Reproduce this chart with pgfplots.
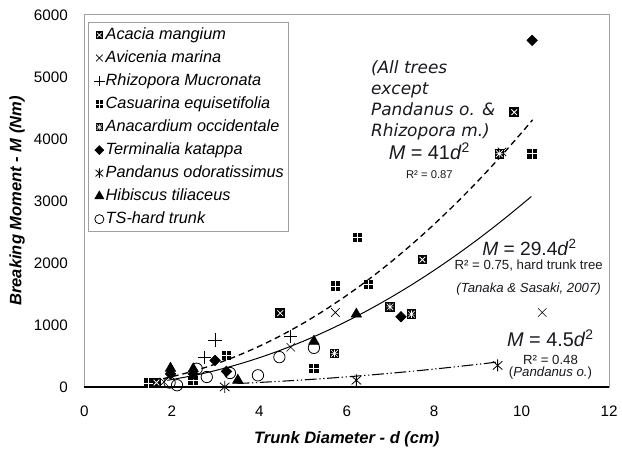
\documentclass[border=0pt]{standalone}
\usepackage{fontspec}
\setmainfont{Liberation Sans}
\newfontfamily\dejavu{DejaVu Sans}
\usepackage{pgfplots}
\pgfplotsset{compat=1.18}
\definecolor{txt}{rgb}{0.1,0.1,0.12}
\pgfdeclareplotmark{acacia}{%
  \pgfpathrectangle{\pgfqpoint{-\pgfplotmarksize}{-\pgfplotmarksize}}{\pgfqpoint{2\pgfplotmarksize}{2\pgfplotmarksize}}%
  \pgfusepathqfill
  \begin{pgfscope}\pgfsetstrokecolor{white}\pgfsetlinewidth{0.6pt}%
  \pgfpathmoveto{\pgfqpoint{-0.6\pgfplotmarksize}{-0.6\pgfplotmarksize}}%
  \pgfpathlineto{\pgfqpoint{0.6\pgfplotmarksize}{0.6\pgfplotmarksize}}%
  \pgfpathmoveto{\pgfqpoint{-0.6\pgfplotmarksize}{0.6\pgfplotmarksize}}%
  \pgfpathlineto{\pgfqpoint{0.6\pgfplotmarksize}{-0.6\pgfplotmarksize}}%
  \pgfusepathqstroke\end{pgfscope}}
\pgfdeclareplotmark{casuarina}{%
  \pgfpathrectangle{\pgfqpoint{-\pgfplotmarksize}{-\pgfplotmarksize}}{\pgfqpoint{2\pgfplotmarksize}{2\pgfplotmarksize}}%
  \pgfusepathqfill
  \begin{pgfscope}\pgfsetstrokecolor{white}\pgfsetlinewidth{0.7pt}%
  \pgfpathmoveto{\pgfqpoint{0pt}{-\pgfplotmarksize}}%
  \pgfpathlineto{\pgfqpoint{0pt}{\pgfplotmarksize}}%
  \pgfpathmoveto{\pgfqpoint{-\pgfplotmarksize}{0pt}}%
  \pgfpathlineto{\pgfqpoint{\pgfplotmarksize}{0pt}}%
  \pgfusepathqstroke\end{pgfscope}}
\pgfdeclareplotmark{anacardium}{%
  \pgfpathrectangle{\pgfqpoint{-\pgfplotmarksize}{-\pgfplotmarksize}}{\pgfqpoint{2\pgfplotmarksize}{2\pgfplotmarksize}}%
  \pgfusepathqfill
  \begin{pgfscope}\pgfsetstrokecolor{white}\pgfsetlinewidth{0.45pt}%
  \pgfpathmoveto{\pgfqpoint{-0.7\pgfplotmarksize}{-0.7\pgfplotmarksize}}%
  \pgfpathlineto{\pgfqpoint{0.7\pgfplotmarksize}{0.7\pgfplotmarksize}}%
  \pgfpathmoveto{\pgfqpoint{-0.7\pgfplotmarksize}{0.7\pgfplotmarksize}}%
  \pgfpathlineto{\pgfqpoint{0.7\pgfplotmarksize}{-0.7\pgfplotmarksize}}%
  \pgfpathmoveto{\pgfqpoint{0pt}{-0.8\pgfplotmarksize}}%
  \pgfpathlineto{\pgfqpoint{0pt}{0.8\pgfplotmarksize}}%
  \pgfpathmoveto{\pgfqpoint{-0.8\pgfplotmarksize}{0pt}}%
  \pgfpathlineto{\pgfqpoint{0.8\pgfplotmarksize}{0pt}}%
  \pgfusepathqstroke\end{pgfscope}}
\pgfdeclareplotmark{pand}{%
  \pgfpathmoveto{\pgfqpoint{0pt}{-\pgfplotmarksize}}%
  \pgfpathlineto{\pgfqpoint{0pt}{\pgfplotmarksize}}%
  \pgfpathmoveto{\pgfqpoint{-0.8\pgfplotmarksize}{-0.7\pgfplotmarksize}}%
  \pgfpathlineto{\pgfqpoint{0.8\pgfplotmarksize}{0.7\pgfplotmarksize}}%
  \pgfpathmoveto{\pgfqpoint{-0.8\pgfplotmarksize}{0.7\pgfplotmarksize}}%
  \pgfpathlineto{\pgfqpoint{0.8\pgfplotmarksize}{-0.7\pgfplotmarksize}}%
  \pgfusepathqstroke}
\pgfdeclareplotmark{diam}{%
  \pgfpathmoveto{\pgfqpoint{0pt}{\pgfplotmarksize}}%
  \pgfpathlineto{\pgfqpoint{\pgfplotmarksize}{0pt}}%
  \pgfpathlineto{\pgfqpoint{0pt}{-\pgfplotmarksize}}%
  \pgfpathlineto{\pgfqpoint{-\pgfplotmarksize}{0pt}}%
  \pgfpathclose\pgfusepathqfillstroke}
\begin{document}
\begin{tikzpicture}
\begin{axis}[
  at={(0,0)}, anchor=south west,
  scale only axis, width=396.75pt, height=281.25pt,
  xmin=0, xmax=12, ymin=0, ymax=6000,
  xtick={0,2,4,6,8,10,12}, ytick={0,1000,2000,3000,4000,5000,6000},
  major tick length=0pt,
  clip=false,
  axis line style={draw=gray!75, line width=0.9pt},
  tick label style={font=\fontsize{11.5}{13}\selectfont, text=black},
  /pgf/number format/assume math mode=true,
  /pgf/number format/set thousands separator={},
  yticklabel style={xshift=-9pt},
  xticklabel style={yshift=-11pt},
  every axis x label/.style={at={(axis description cs:0.5,-0.14)}, anchor=center},
  every axis y label/.style={at={(axis description cs:-0.128,0.5)}, anchor=center, rotate=90},
  label style={font=\bfseries\itshape\fontsize{12.5}{14}\selectfont, text=black},
  xlabel={Trunk Diameter - d (cm)},
  ylabel={Breaking Moment - M (Nm)},
  legend style={at={(0.0076,0.981)}, anchor=north west, draw=gray!75, line width=0.7pt,
    font=\itshape\fontsize{12.3}{14}\selectfont, inner xsep=3pt, inner ysep=3pt,
    row sep=4.3pt, column sep=0pt, nodes={inner sep=0.8pt, text height=9pt, text depth=2.5pt}},
  legend cell align=left,
  legend image code/.code={\path[draw=none] (0pt,0pt) -- (9pt,0pt); \draw[#1,/tikz/every mark/.append style={scale=0.8}] plot coordinates {(5pt,0pt)};},
]
\addplot[only marks, mark=acacia, mark size=3.6pt, mark options={fill=black,draw=black}]
 coordinates {(9.83,4430)(7.73,2053)(4.48,1190)(1.65,70)};
\addlegendentry{Acacia mangium}
\addplot[only marks, mark=x, mark size=4.5pt, black, mark options={line width=0.5pt}]
 coordinates {(10.47,1200)(5.74,1200)(4.72,640)(1.82,80)(9.55,3790)};
\addlegendentry{Avicenia marina}
\addplot[only marks, mark=+, mark size=5pt, black, mark options={line width=0.6pt}]
 coordinates {(2.99,757)(2.74,480)(4.72,811)};
\addlegendentry{Rhizopora Mucronata}
\addplot[only marks, mark=casuarina, mark size=3.6pt, mark options={fill=black,draw=black}]
 coordinates {(10.24,3760)(6.25,2410)(5.74,1627)(6.5,1653)(3.25,507)(2.49,107)(1.47,60)(5.25,300)};
\addlegendentry{Casuarina equisetifolia}
\addplot[only marks, mark=anacardium, mark size=3.6pt, mark options={fill=black,draw=black}]
 coordinates {(9.49,3760)(6.99,1290)(7.48,1173)(5.72,540)};
\addlegendentry{Anacardium occidentale}
\addplot[only marks, mark=diam, mark size=4pt, mark options={fill=black,draw=black}]
 coordinates {(10.24,5589)(7.24,1131)(2.99,427)(3.25,250)(1.97,210)(2.49,210)};
\addlegendentry{Terminalia katappa}
\addplot[only marks, mark=pand, mark size=4.5pt, black, mark options={line width=0.6pt}]
 coordinates {(3.21,0)(6.22,107)(9.45,347)};
\addlegendentry{Pandanus odoratissimus}
\addplot[only marks, mark=triangle*, mark size=4.6pt, mark options={fill=black,draw=black}]
 coordinates {(6.22,1173)(5.25,736)(3.51,107)(1.97,300)(2.49,290)};
\addlegendentry{Hibiscus tiliaceus}
\addplot[only marks, mark=o, mark size=4.3pt, black, mark options={line width=0.6pt, fill=white}]
 coordinates {(2.12,27)(2.8,160)(2.57,293)(3.97,187)(4.46,480)(5.25,630)(3.33,224)(1.95,70)};
\addlegendentry{TS-hard trunk}
% trendlines
\addplot[forget plot, black, line width=1pt, dash pattern=on 4.5pt off 3pt, smooth]
 coordinates {(1.8,132.84)(2,164)(2.5,256.25)(3,369)(3.5,502.25)(4,656)(4.5,830.25)(5,1025)(5.5,1240.25)(6,1476)(6.5,1732.25)(7,2009)(7.5,2306.25)(8,2624)(8.5,2962.25)(9,3321)(9.5,3700.25)(10,4100)(10.25,4307.56)};
\addplot[forget plot, black, line width=0.75pt, smooth]
 coordinates {(1.9,106.13)(2.5,183.75)(3,264.6)(3.5,360.15)(4,470.4)(4.5,595.35)(5,735)(5.5,889.35)(6,1058.4)(6.5,1242.15)(7,1440.6)(7.5,1653.75)(8,1881.6)(8.5,2124.15)(9,2381.4)(9.5,2653.35)(10,2940)(10.22,3070.8)};
\addplot[forget plot, black, line width=0.8pt, dash pattern=on 9pt off 2pt on 1pt off 2pt on 1pt off 2pt, smooth]
 coordinates {(3.5,55.13)(4,72)(5,112.5)(6,162)(7,220.5)(8,288)(9,364.5)(9.45,401.86)};
\draw[black, line width=1.3pt] (rel axis cs:0,0) -- (rel axis cs:1,0);
% annotations
\node[anchor=north west, align=left, inner sep=0pt, text=txt, font=\dejavu\itshape\fontsize{12.8}{16}\selectfont]
 at (axis cs:6.55,5270) {(All trees\\except\\Pandanus o. \&\\Rhizopora m.)};
\node[inner sep=0pt, text=txt, font=\fontsize{15}{17}\selectfont] at (axis cs:7.89,3800) {\textit{M} = 41\textit{d}\textsuperscript{2}};
\node[inner sep=0pt, text=txt, font=\fontsize{8.5}{10}\selectfont] at (axis cs:7.89,3424) {R² = 0.87};
\node[inner sep=0pt, text=txt, font=\fontsize{14.5}{17}\selectfont] at (axis cs:10.18,2250) {\textit{M} = 29.4\textit{d}\textsuperscript{2}};
\node[inner sep=0pt, text=txt, font=\fontsize{10}{12}\selectfont] at (axis cs:10.16,1960) {R² = 0.75, hard trunk tree};
\node[inner sep=0pt, text=txt, font=\itshape\fontsize{10}{12}\selectfont] at (axis cs:10.16,1584) {(Tanaka \& Sasaki, 2007)};
\node[inner sep=0pt, text=txt, font=\fontsize{15}{17}\selectfont] at (axis cs:10.66,780) {\textit{M} = 4.5\textit{d}\textsuperscript{2}};
\node[inner sep=0pt, text=txt, font=\fontsize{10}{12}\selectfont] at (axis cs:10.66,430) {R² = 0.48};
\node[inner sep=0pt, text=txt, font=\fontsize{10}{12}\selectfont] at (axis cs:10.66,230) {(\textit{Pandanus o.})};
\end{axis}
\path[use as bounding box] (-63.75pt,-48pt) rectangle (402.75pt,292.5pt);
\end{tikzpicture}
\end{document}
